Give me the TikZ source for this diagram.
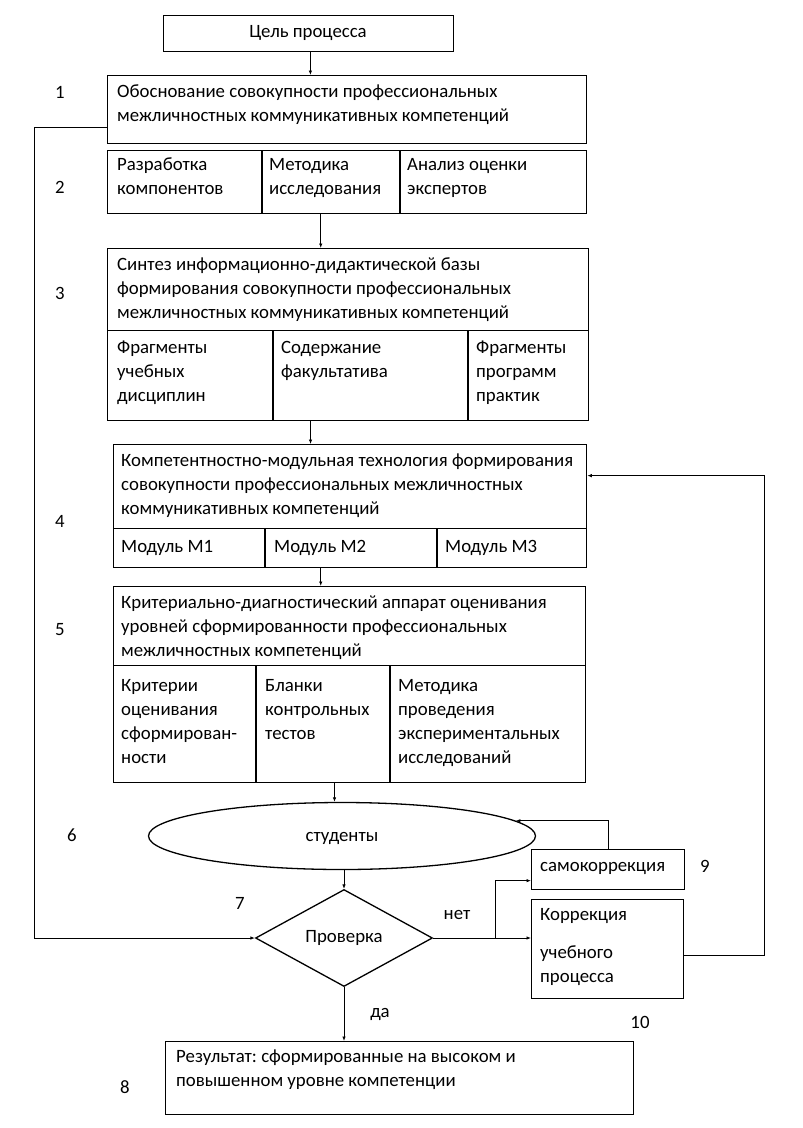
\documentclass[tikz,border=0pt]{standalone}
\usepackage{fontspec}
\setmainfont{Carlito}
\usetikzlibrary{shapes.geometric,arrows.meta,calc}
\frenchspacing
\begin{document}
\begin{tikzpicture}[x=1pt,y=-1pt,
  every node/.style={font=\fontsize{18.8}{24}\selectfont},
  box/.style={draw,line width=1.3pt,rectangle,anchor=north west,inner sep=0pt},
  txt/.style={anchor=north west,inner sep=0pt,align=left},
  lbl/.style={inner sep=0pt},
  divider/.style={line width=1.3pt},
  arr/.style={line width=0.8pt,-{Latex[length=4.5pt,width=3.5pt]}},
  con/.style={line width=0.8pt}]
\useasboundingbox (0,0) rectangle (803,1128);

% goal
\node[box,minimum width=290pt,minimum height=36pt] (goal) at (163,15) {};
\node[lbl] (goalt) at (308,33) {Цель процесса};

% block 1
\node[box,minimum width=479pt,minimum height=68pt] (b1) at (107,75) {};
\node[txt] (b1t) at (117,80) {\strut Обоснование совокупности профессиональных\\межличностных коммуникативных компетенций};

% block 2
\node[box,minimum width=479pt,minimum height=63pt] (b2) at (107,150) {};
\draw[divider] (262,150) -- (262,213);
\draw[divider] (400,150) -- (400,213);
\node[txt] (b2a) at (117,153) {\strut Разработка\\компонентов};
\node[txt] (b2b) at (269,153) {\strut Методика\\исследования};
\node[txt] (b2c) at (407,153) {\strut Анализ оценки\\экспертов};

% block 3
\node[box,minimum width=481pt,minimum height=82pt] (b3) at (107,248) {};
\node[txt] (b3t) at (117,253) {\strut Синтез информационно-дидактической базы\\формирования совокупности профессиональных\\межличностных коммуникативных компетенций};
\node[box,minimum width=481pt,minimum height=90pt] (b3r) at (107,330) {};
\draw[divider] (273,330) -- (273,420);
\draw[divider] (468,330) -- (468,420);
\node[txt] (b3a) at (117,336) {\strut Фрагменты\\учебных\\дисциплин};
\node[txt] (b3b) at (281,336) {\strut Содержание\\факультатива};
\node[txt] (b3c) at (476,336) {\strut Фрагменты\\программ\\практик};

% block 4
\node[box,minimum width=473pt,minimum height=84pt] (b4) at (113,444) {};
\node[txt] (b4t) at (121,449) {\strut Компетентностно-модульная технология формирования\\совокупности профессиональных межличностных\\коммуникативных компетенций};
\node[box,minimum width=473pt,minimum height=39pt] (b4r) at (113,528) {};
\draw[divider] (265,528) -- (265,567);
\draw[divider] (437,528) -- (437,567);
\node[txt] (b4a) at (121,535) {\strut Модуль М1};
\node[txt] (b4b) at (274,535) {\strut Модуль М2};
\node[txt] (b4c) at (445,535) {\strut Модуль М3};

% block 5
\node[box,minimum width=472pt,minimum height=79pt] (b5) at (113,586) {};
\node[txt] (b5t) at (121,591) {\strut Критериально-диагностический аппарат оценивания\\уровней сформированности профессиональных\\межличностных компетенций};
\node[box,minimum width=472pt,minimum height=117pt] (b5r) at (113,665) {};
\draw[divider] (256,665) -- (256,782);
\draw[divider] (390,665) -- (390,782);
\node[txt] (b5a) at (121,674) {\strut Критерии\\оценивания\\сформирован-\\ности};
\node[txt] (b5b) at (265,674) {\strut Бланки\\контрольных\\тестов};
\node[txt] (b5c) at (398,674) {\strut Методика\\проведения\\экспериментальных\\исследований};

% students
\node[draw,line width=1.3pt,ellipse,minimum width=387pt,minimum height=67pt,inner sep=0pt] (ell) at (342,836) {};
\node[lbl] (ellt) at (342,838) {студенты};

% check
\node[draw,line width=1.3pt,diamond,minimum width=177pt,minimum height=97pt,inner sep=0pt] (dia) at (344,938) {Проверка};

% self-correction
\node[box,minimum width=153pt,minimum height=40pt] (self) at (531,849) {};
\node[txt] (selft) at (540,854) {\strut самокоррекция};

% correction
\node[box,minimum width=152pt,minimum height=99pt] (corr) at (531,899) {};
\node[txt] (corrt) at (540,903) {\strut Коррекция\\[14pt]учебного\\процесса};

% result
\node[box,minimum width=468pt,minimum height=73pt] (res) at (165,1041) {};
\node[txt] (rest) at (176,1045) {\strut Результат: сформированные на высоком и\\повышенном уровне компетенции};

% numbers
\node[lbl] (n1) at (60,92) {1};
\node[lbl] (n2) at (60,187) {2};
\node[lbl] (n3) at (60,293) {3};
\node[lbl] (n4) at (60,521) {4};
\node[lbl] (n5) at (60,630) {5};
\node[lbl] (n6) at (72,835) {6};
\node[lbl] (n7) at (240,903) {7};
\node[lbl] (n8) at (125,1087) {8};
\node[lbl] (n9) at (705,866) {9};
\node[lbl] (n10) at (640,1022) {10};
\node[lbl] (net) at (457,915) {нет};
\node[lbl] (da) at (380,1014) {да};

% connectors
\coordinate (c1) at ($(goal.south west)!0.506!(goal.south east)$);
\coordinate (c2) at ($(b2.south west)!0.445!(b2.south east)$);
\coordinate (c3) at ($(b3r.south west)!0.422!(b3r.south east)$);
\coordinate (c4) at ($(b4r.south west)!0.438!(b4r.south east)$);
\coordinate (c5) at ($(b5r.south west)!0.468!(b5r.south east)$);
\draw[arr] (c1) -- (c1 |- b1.north);
\draw[arr] (c2) -- (c2 |- b3.north);
\draw[arr] (c3) -- (c3 |- b4.north);
\draw[arr] (c4) -- (c4 |- b5.north);
\draw[arr] (c5) -- (c5 |- ell.north);
\draw[arr] (ell.south -| dia.north) -- (dia.north);
\draw[arr] (dia.south) -- (dia.south |- res.north);
\draw[arr] ([yshift=-18pt]b1.west) -- ++(-73,0) |- (dia.west);
\draw[arr] (dia.east) -- (dia.east -| corr.west);
\coordinate (br) at ($(dia.east)!0.64!(dia.east -| corr.west)$);
\draw[arr] (br) |- ([yshift=-11pt]self.west);
\draw[arr] (self.north) |- (ell.5);
\draw[arr] ([yshift=-6pt]corr.east) -- ++(80,0) |- ([yshift=11pt]b4.east);
\end{tikzpicture}
\end{document}
